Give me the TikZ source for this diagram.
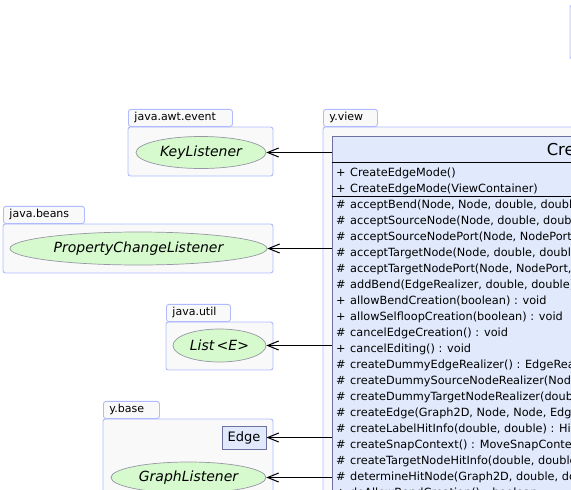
\documentclass[tikz,border=0pt]{standalone}
\usepackage{fontspec}
\setmainfont{DejaVu Sans}
\usetikzlibrary{shapes.geometric,arrows.meta}
\definecolor{pkgline}{RGB}{176,186,255}
\definecolor{pkgfill}{RGB}{249,249,249}
\definecolor{ifill}{RGB}{214,250,206}
\definecolor{iline}{RGB}{150,150,165}
\definecolor{cfill}{RGB}{224,234,252}
\definecolor{cline}{RGB}{110,112,160}
\tikzset{
  pkg/.style={draw=pkgline, fill=pkgfill, line width=0.9pt, rounded corners=2.5pt},
  pkgtab/.style={pkg, anchor=south west, minimum height=17pt, inner xsep=6pt,
    text width=#1, align=left, text height=8pt, text depth=2.5pt,
    font=\fontsize{11}{13}\selectfont},
  iface/.style={ellipse, draw=iline, fill=ifill, line width=0.7pt, inner sep=0pt,
    font=\fontsize{14}{16}\selectfont\itshape},
  cls/.style={draw=cline, fill=cfill, line width=0.9pt},
  member/.style={anchor=base west, inner sep=0pt, font=\fontsize{11.3}{13}\selectfont},
  dep/.style={-{Straight Barb[length=11pt,width=9pt]}, line width=1pt},
}
\begin{document}
\begin{tikzpicture}[x=1pt, y=-1pt]
  \useasboundingbox (0,0) rectangle (571,490);
  \clip (0,0) rectangle (571,490);

  % packages
  \draw[pkg] (128,127) rectangle (273,176);
  \node[pkgtab=92pt] (awt) at (128,127) {java.awt.event};
  \draw[pkg] (3,224) rectangle (273,273);
  \node[pkgtab=69pt] (beans) at (3,224) {java.beans};
  \draw[pkg] (166,322) rectangle (273,370);
  \node[pkgtab=52pt] (util) at (166,322) {java.util};
  \draw[pkg] (103,419) rectangle (273,510);
  \node[pkgtab=44pt] (base) at (103,419) {y.base};
  \draw[pkg] (323,127) rectangle (620,510);
  \node[pkgtab=42pt] (view) at (323,127) {y.view};
  \draw[pkg] (570,5) rectangle (620,59);

  % class
  \node[cls, anchor=north west, minimum width=570pt, minimum height=380pt] (cem) at (332,136) {};
  \draw[line width=0.9pt] ([yshift=-26pt]cem.north west) -- ([yshift=-26pt]cem.north east);
  \draw[line width=0.9pt] ([yshift=-60pt]cem.north west) -- ([yshift=-60pt]cem.north east);
  \node[anchor=base, inner sep=0pt, font=\fontsize{16.4}{18}\selectfont] (title) at (617,155) {CreateEdgeMode};

  \foreach \y/\s/\t [count=\i] in {
      172/+/{CreateEdgeMode()},
      188/+/{CreateEdgeMode(ViewContainer)},
      204/\#/{acceptBend(Node, Node, double, double) : boolean},
      220/\#/{acceptSourceNode(Node, double, double) : boolean},
      236/\#/{acceptSourceNodePort(Node, NodePort, double, double) : boolean},
      252/\#/{acceptTargetNode(Node, double, double) : boolean},
      268/\#/{acceptTargetNodePort(Node, NodePort, double, double) : boolean},
      284/\#/{addBend(EdgeRealizer, double, double) : Bend},
      300/+/{allowBendCreation(boolean) : void},
      316/+/{allowSelfloopCreation(boolean) : void},
      332/\#/{cancelEdgeCreation() : void},
      348/+/{cancelEditing() : void},
      364/\#/{createDummyEdgeRealizer() : EdgeRealizer},
      380/\#/{createDummySourceNodeRealizer(Node) : NodeRealizer},
      396/\#/{createDummyTargetNodeRealizer(double, double) : NodeRealizer},
      412/\#/{createEdge(Graph2D, Node, Node, EdgeRealizer) : Edge},
      428/\#/{createLabelHitInfo(double, double) : HitInfo},
      444/\#/{createSnapContext() : MoveSnapContext},
      460/\#/{createTargetNodeHitInfo(double, double) : HitInfo},
      476/\#/{determineHitNode(Graph2D, double, double) : Node},
      492/+/{doAllowBendCreation() : boolean}}
  {
    \node[member] (s\i) at (336,{\y+4}) {\s};
    \node[member] (m\i) at (350,{\y+4}) {\t};
  }

  % interfaces and classes used
  \node[iface, minimum width=130pt, minimum height=32pt] (keyl) at (201,152.5) {KeyListener};
  \node[iface, minimum width=257pt, minimum height=33pt] (pcl) at (138.5,248.5) {PropertyChangeListener};
  \node[iface, minimum width=93pt, minimum height=33pt] (lst) at (219.5,345.5) {List\,<E>};
  \node[cls, minimum width=44pt, minimum height=23pt, inner sep=0pt,
    font=\fontsize{13}{15}\selectfont] (edge) at (244,437.5) {Edge};
  \node[iface, minimum width=155pt, minimum height=31pt] (gl) at (188.5,477.5) {GraphListener};

  % dependencies
  \draw[dep] (cem.west |- keyl.east) -- (keyl.east);
  \draw[dep] (cem.west |- pcl.east) -- (pcl.east);
  \draw[dep] (cem.west |- lst.east) -- (lst.east);
  \draw[dep] (cem.west |- edge.east) -- (edge.east);
  \draw[dep] (cem.west |- gl.east) -- (gl.east);
\end{tikzpicture}
\end{document}
